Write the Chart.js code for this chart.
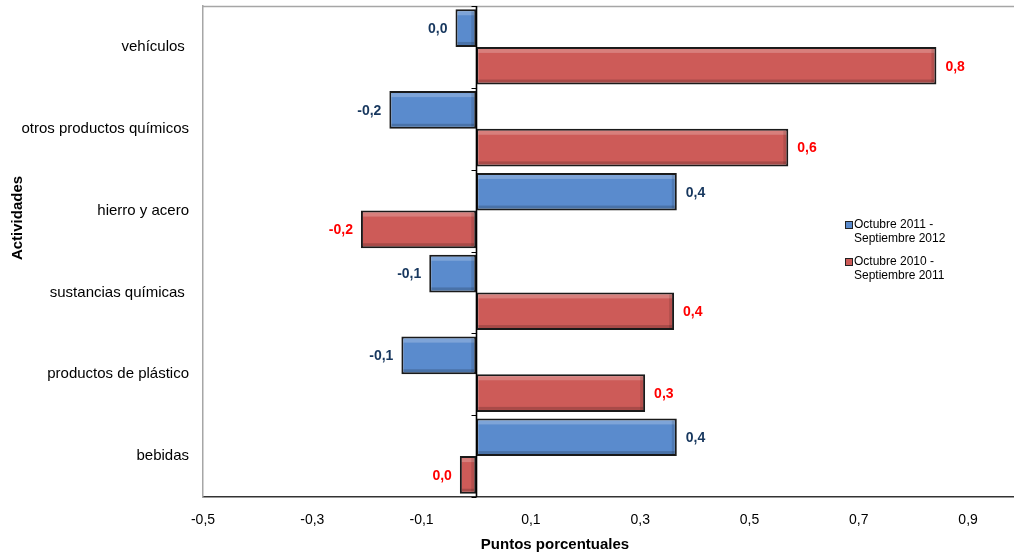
<!DOCTYPE html>
<html>
<head>
<meta charset="utf-8">
<script src="https://cdn.jsdelivr.net/npm/chart.js@4/dist/chart.umd.min.js"></script>
<style>
  html, body { margin: 0; padding: 0; background: #fff; overflow: hidden; }
  #wrap { position: relative; width: 1014px; height: 556px; }
</style>
</head>
<body>
<div id="wrap"><canvas id="c" width="1014" height="556"></canvas></div>
<script>
// ---- data ----
const categories = ['vehículos ', 'otros productos químicos', 'hierro y acero', 'sustancias químicas ', 'productos de plástico', 'bebidas'];
const seriesOct2011Sep2012 = [-0.038, -0.159, 0.367, -0.086, -0.137, 0.367];
const seriesOct2010Sep2011 = [0.842, 0.571, -0.211, 0.362, 0.309, -0.030];
const seriesNames = [['Octubre 2011 -', 'Septiembre 2012'], ['Octubre 2010 -', 'Septiembre 2011']];
const xTickValues = [-0.5, -0.3, -0.1, 0.1, 0.3, 0.5, 0.7, 0.9];
const xTitle = 'Puntos porcentuales';
const yTitle = 'Actividades';

const FONT = "'Liberation Sans', Arial, sans-serif";
const fillColors = ['#5a8bcd', '#cd5b58'];
const labelColors = ['#17375e', '#ff0000'];

function fmt(v) {
  const r = Math.round(v * 10) / 10;
  return (r === 0 ? 0 : r).toFixed(1).replace('.', ',');
}

const decorPlugin = {
  id: 'decor',
  beforeDatasetsDraw(chart) {
    const { ctx, chartArea: a } = chart;
    ctx.save();
    ctx.strokeStyle = '#a6a6a6';
    ctx.lineWidth = 1.5;
    ctx.beginPath();
    ctx.moveTo(a.left, a.top + 0.5);
    ctx.lineTo(a.right, a.top + 0.5);
    ctx.stroke();
    ctx.restore();
  },
  afterDatasetsDraw(chart) {
    const { ctx, chartArea: a } = chart;
    const xs = chart.scales.x, ys = chart.scales.y;
    ctx.save();
    // bevel highlights
    chart.data.datasets.forEach((ds, i) => {
      chart.getDatasetMeta(i).data.forEach((el) => {
        const p = el.getProps(['x', 'y', 'base', 'height'], true);
        const l = Math.min(p.x, p.base), r = Math.max(p.x, p.base);
        const t = p.y - p.height / 2, b = p.y + p.height / 2;
        const w = r - l;
        if (w < 6) return;
        ctx.fillStyle = 'rgba(255,255,255,0.22)';
        ctx.fillRect(l + 2, t + 2, w - 4, 4);
        ctx.fillStyle = 'rgba(0,0,0,0.18)';
        ctx.fillRect(l + 2, b - 5, w - 4, 3);
        ctx.fillStyle = 'rgba(0,0,0,0.12)';
        ctx.fillRect(r - 5, t + 2, 3, p.height - 4);
      });
    });
    // zero line
    const zx = Math.round(xs.getPixelForValue(0)) + 0.5;
    ctx.strokeStyle = '#000';
    ctx.lineWidth = 1.6;
    ctx.beginPath();
    ctx.moveTo(zx, a.top);
    ctx.lineTo(zx, a.bottom);
    ctx.stroke();
    // category tick marks
    ctx.lineWidth = 1;
    const n = categories.length;
    for (let k = 0; k <= n; k++) {
      const y = Math.round(ys.getPixelForValue(k - 0.5)) + 0.5;
      ctx.beginPath();
      ctx.moveTo(zx - 5, y);
      ctx.lineTo(zx, y);
      ctx.stroke();
    }
    // value labels
    ctx.font = 'bold 14px ' + FONT;
    ctx.textBaseline = 'middle';
    chart.data.datasets.forEach((ds, i) => {
      ctx.fillStyle = labelColors[i];
      chart.getDatasetMeta(i).data.forEach((el, j) => {
        const v = ds.data[j];
        const p = el.getProps(['x', 'y'], true);
        const txt = fmt(v);
        if (v >= 0) {
          ctx.textAlign = 'left';
          ctx.fillText(txt, p.x + 9, p.y + 1);
        } else {
          ctx.textAlign = 'right';
          ctx.fillText(txt, p.x - 8, p.y + 1);
        }
      });
    });
    ctx.restore();
  },
  afterDraw(chart) {
    const { ctx } = chart;
    ctx.save();
    ctx.fillStyle = '#000';
    ctx.font = 'bold 15px ' + FONT;
    ctx.textAlign = 'center';
    ctx.textBaseline = 'middle';
    ctx.fillText(xTitle, 555, 545);
    ctx.translate(18, 218);
    ctx.rotate(-Math.PI / 2);
    ctx.fillText(yTitle, 0, 0);
    ctx.restore();
    // legend
    ctx.save();
    ctx.font = '12px ' + FONT;
    ctx.textAlign = 'left';
    ctx.textBaseline = 'middle';
    const lx = 845, ly = [225, 262];
    chart.data.datasets.forEach((ds, i) => {
      const y0 = ly[i];
      ctx.fillStyle = fillColors[i];
      ctx.fillRect(lx, y0 - 4, 8, 8);
      ctx.strokeStyle = '#222';
      ctx.lineWidth = 1;
      ctx.strokeRect(lx + 0.5, y0 - 3.5, 7, 7);
      ctx.fillStyle = '#000';
      ds.label.forEach((line, k) => {
        ctx.fillText(line, lx + 9, y0 + k * 14);
      });
    });
    ctx.restore();
  }
};

new Chart(document.getElementById('c'), {
  type: 'bar',
  data: {
    labels: categories,
    datasets: [
      {
        label: seriesNames[0],
        data: seriesOct2011Sep2012,
        backgroundColor: fillColors[0],
        borderColor: '#1a1a1a',
        borderWidth: 2,
        borderSkipped: false,
        categoryPercentage: 0.92,
        barPercentage: 1.0
      },
      {
        label: seriesNames[1],
        data: seriesOct2010Sep2011,
        backgroundColor: fillColors[1],
        borderColor: '#1a1a1a',
        borderWidth: 2,
        borderSkipped: false,
        categoryPercentage: 0.92,
        barPercentage: 1.0
      }
    ]
  },
  options: {
    indexAxis: 'y',
    responsive: false,
    animation: false,
    devicePixelRatio: 1,
    layout: { padding: { top: 6, left: 0, right: 0, bottom: 0 }, autoPadding: false },
    plugins: {
      legend: { display: false },
      tooltip: { enabled: false }
    },
    scales: {
      x: {
        type: 'linear',
        min: -0.5,
        max: 0.984,
        afterBuildTicks(scale) { scale.ticks = xTickValues.map(v => ({ value: v })); },
        afterFit(scale) { scale.height = 59; scale.paddingLeft = 0; scale.paddingRight = 0; },
        grid: { display: false },
        border: { display: true, color: '#333', width: 1.6 },
        ticks: {
          font: { family: FONT, size: 14 },
          color: '#000',
          padding: 7,
          maxRotation: 0,
          callback: (v) => fmt(v)
        }
      },
      y: {
        type: 'category',
        afterFit(scale) { scale.width = 203; scale.paddingTop = 0; scale.paddingBottom = 0; },
        grid: { display: false },
        border: { display: true, color: '#a6a6a6', width: 1.5 },
        ticks: {
          font: { family: FONT, size: 15 },
          color: '#000',
          padding: 6
        }
      }
    }
  },
  plugins: [decorPlugin]
});
</script>
</body>
</html>
